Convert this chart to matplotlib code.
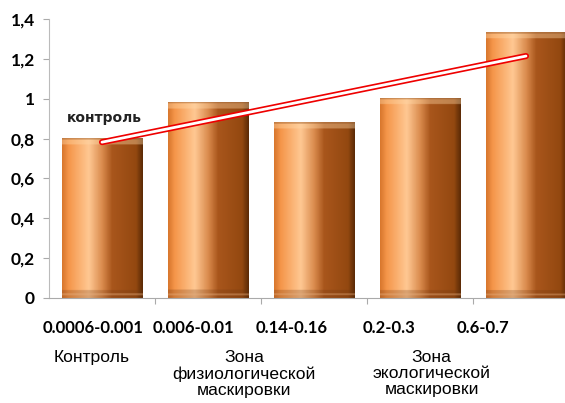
import numpy as np
import matplotlib
matplotlib.use("Agg")
import matplotlib.pyplot as plt
from matplotlib.colors import LinearSegmentedColormap, to_rgb

ranges = ["0.0006-0.001", "0.006-0.01", "0.14-0.16", "0.2-0.3", "0.6-0.7"]
values = [0.80, 0.98, 0.88, 1.00, 1.33]
yticks = [0, 0.2, 0.4, 0.6, 0.8, 1.0, 1.2, 1.4]
ytick_labels = ["0", "0,2", "0,4", "0,6", "0,8", "1", "1,2", "1,4"]
range_x = [0.915, 1.86, 2.785, 3.71, 4.595]
zone_labels = ["Контроль", "Зона\nфизиологической\nмаскировки", "Зона\nэкологической\nмаскировки"]
zone_x = [0.905, 2.34, 4.11]
control_note = "контроль"

plt.rcParams['font.family'] = ['Lato', 'DejaVu Sans']

fig = plt.figure(figsize=(5.65, 4.03), dpi=100)
ax = fig.add_axes([49/565, 1-298/403, 516/565, 279/403])

x = np.arange(1, len(values) + 1)
width = 0.76
bars = ax.bar(x, values, width=width, color="none", edgecolor="none", zorder=2)

stops = [(0.0, "#D9772E"), (0.08, "#F5964A"), (0.33, "#FFC893"),
         (0.5, "#D98A4C"), (0.62, "#A9561C"), (0.92, "#934810"), (1.0, "#5C2B06")]
cmap = LinearSegmentedColormap.from_list("cu", stops)
ncol = 120
grad = cmap(np.linspace(0, 1, ncol))[:, :3]

for b in bars:
    x0, w, h = b.get_x(), b.get_width(), b.get_height()
    nrow = 300
    ys = np.linspace(h, 0, nrow)
    img = np.tile(grad[None, :, :], (nrow, 1, 1)).copy()
    top = (h - ys) < 0.03
    img[top] = img[top] * 0.6 + np.array(to_rgb("#FFD9A8")) * 0.4
    edge = (h - ys) < 0.006
    img[edge] = img[edge] * 0.6 + np.array(to_rgb("#8A4A1A")) * 0.4
    bot = ys < 0.04
    img[bot] = img[bot] * 0.75 + np.array(to_rgb("#6A3410")) * 0.25
    bl = (ys < 0.022) & (ys > 0.012)
    img[bl] = img[bl] * 0.6 + np.array(to_rgb("#E8B080")) * 0.4
    ax.imshow(img, extent=[x0, x0 + w, 0, h], aspect="auto", zorder=2,
              interpolation="bilinear")

coef = np.polyfit(x, values, 1)
tx = np.array([x[0], x[-1]])
ty = np.polyval(coef, tx)
ax.plot(tx, ty, color="#EE0000", lw=4.4, solid_capstyle="round", zorder=4)
ax.plot(tx, ty, color="white", lw=2.0, solid_capstyle="round", zorder=5)

ax.text(1.02, 0.905, control_note, ha="center", va="center", fontsize=10,
        fontweight="bold", color="#222222", zorder=6, family="DejaVu Sans")

ax.set_xlim(0.5, 0.5 + 516/106)
ax.set_ylim(0, 1.4)
ax.set_yticks(yticks)
ax.set_yticklabels(ytick_labels, fontsize=12.5, fontweight="bold")
ax.set_xticks(np.arange(1.5, 5.5, 1.0))
ax.set_xticklabels([])
ax.tick_params(axis="x", length=4, color="#AAAAAA", direction="out")
ax.tick_params(axis="y", length=4, color="#AAAAAA", direction="out", pad=6)

for s in ["top", "right"]:
    ax.spines[s].set_visible(False)
ax.spines["left"].set_color("#BBBBBB")
ax.spines["bottom"].set_color("#AAAAAA")

for rx, r in zip(range_x, ranges):
    ax.text(rx, -0.15, r, ha="center", va="center", fontsize=12,
            fontweight="bold", clip_on=False)
for zx, zl in zip(zone_x, zone_labels):
    ax.text(zx, -0.262, zl, ha="center", va="top", fontsize=12.6,
            linespacing=1.08, family=["Liberation Sans"], clip_on=False)

fig.savefig("out.png", dpi=100)
